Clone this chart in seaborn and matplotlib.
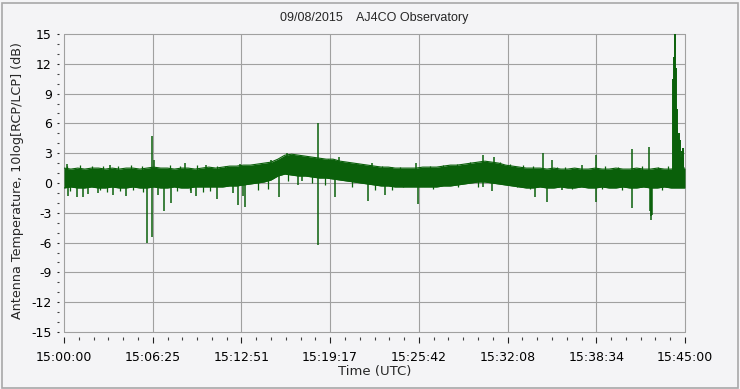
import numpy as np
import pandas as pd
import matplotlib
matplotlib.use("Agg")
import matplotlib.pyplot as plt
from matplotlib.patches import Rectangle
import seaborn as sns

# ---------------- data ----------------
# noise band envelope, every 30 s from 15:00:00 (seconds since 15:00:00)
band_t = list(range(0, 2701, 30))
band_upper = [1.5, 1.4, 1.5, 1.4, 1.5, 1.5, 1.4, 1.5, 1.4, 1.5,
              1.5, 1.4, 1.5, 1.6, 1.5, 1.5, 1.4, 1.5, 1.5, 1.4,
              1.5, 1.6, 1.5, 1.6, 1.7, 1.7, 1.8, 1.8, 1.9, 2.0,
              2.1, 2.4, 2.8, 2.9, 2.8, 2.7, 2.6, 2.5, 2.4, 2.4,
              2.2, 2.1, 2.0, 1.9, 1.8, 1.7, 1.6, 1.6, 1.5, 1.5,
              1.5, 1.5, 1.6, 1.6, 1.6, 1.7, 1.8, 1.8, 1.9, 2.0,
              2.1, 2.2, 2.1, 2.0, 1.8, 1.7, 1.6, 1.5, 1.5, 1.5,
              1.4, 1.5, 1.4, 1.4, 1.5, 1.4, 1.4, 1.5, 1.4, 1.4,
              1.5, 1.4, 1.4, 1.5, 1.4, 1.4, 1.5, 1.4, 1.4, 1.5,
              1.5]
band_lower = [-0.5, -0.4, -0.5, -0.5, -0.4, -0.5, -0.5, -0.4, -0.5, -0.5,
              -0.4, -0.5, -0.5, -0.4, -0.5, -0.5, -0.4, -0.5, -0.5, -0.4,
              -0.4, -0.4, -0.4, -0.4, -0.3, -0.3, -0.2, -0.1, 0.0, 0.1,
              0.3, 0.7, 0.9, 0.8, 0.7, 0.7, 0.6, 0.5, 0.5, 0.4,
              0.3, 0.2, 0.1, 0.0, -0.1, -0.2, -0.3, -0.3, -0.4, -0.4,
              -0.4, -0.4, -0.4, -0.4, -0.4, -0.3, -0.3, -0.2, -0.1, 0.0,
              0.1, 0.1, 0.0, -0.1, -0.2, -0.3, -0.4, -0.5, -0.5, -0.4,
              -0.5, -0.5, -0.4, -0.5, -0.5, -0.4, -0.5, -0.5, -0.4, -0.5,
              -0.5, -0.4, -0.5, -0.5, -0.4, -0.5, -0.5, -0.4, -0.5, -0.5,
              -0.5]

# short hairs on the edges of the noise band
hair_up_t = [12, 70, 120, 170, 235, 293, 338, 461, 504, 577, 664, 700,
             729, 800, 843, 874, 930, 1061, 1148, 1235, 1278, 1383, 1426,
             1461, 1591, 1648, 1709, 1765, 1796, 1896, 1939, 1996, 2039,
             2143, 2178, 2352, 2409, 2512, 2583, 2626]
hair_up_v = [1.7, 1.8, 1.7, 1.75, 1.7, 1.8, 1.7, 1.8, 1.7, 1.8, 1.75, 1.7,
             1.6, 1.7, 1.8, 1.9, 2.1, 2.6, 2.4, 2.1, 1.9, 1.7, 1.6,
             1.65, 1.75, 1.85, 1.9, 2.15, 2.05, 2.15, 1.9, 1.85, 1.75,
             1.65, 1.6, 1.75, 1.6, 1.75, 1.65, 1.75]
hair_dn_t = [26, 157, 186, 243, 301, 345, 490, 548, 606, 635, 843, 887, 974,
             1078, 1135, 1252, 1352, 1426, 1474, 1604, 1715, 1800, 1970, 2026,
             2207, 2338, 2425, 2599]
hair_dn_v = [-0.8, -0.7, -0.9, -0.8, -0.7, -0.9, -0.8, -0.7, -0.9, -0.8,
             -0.75, -0.6, 0.25, -0.05, -0.25, -0.45, -0.75, -0.75, -0.45,
             -0.6, -0.45, -0.45, -0.45, -0.6, -0.6, -0.6, -0.7, -0.7]

# isolated spikes: time (s since 15:00:00) and peak value (dB)
spike_up_t = [14, 200, 383, 393, 526, 617, 765, 900, 970, 1106, 1196, 1339,
              1529, 1822, 1870, 2081, 2120, 2251, 2312, 2468, 2545, 2693]
spike_up_v = [1.9, 1.8, 4.75, 2.3, 2.0, 1.85, 1.9, 2.3, 3.0, 6.0, 2.65, 2.0,
              2.0, 2.8, 2.65, 3.0, 2.3, 1.8, 2.8, 3.4, 3.65, 2.5]

spike_dn_t = [19, 55, 81, 106, 149, 212, 270, 363, 384, 410, 436, 465, 552,
              574, 667, 736, 758, 777, 789, 936, 1016, 1033, 1106, 1180, 1320,
              1396, 1541, 1823, 1860, 2048, 2101, 2164, 2312, 2468, 2546,
              2550, 2553, 2558]
spike_dn_v = [-1.3, -1.4, -1.4, -1.1, -1.0, -1.2, -1.3, -6.0, -5.4, -1.2, -2.8,
              -2.0, -1.0, -1.3, -1.65, -1.0, -2.2, -1.3, -2.4, -1.4, -0.2, 0.2,
              -6.2, -1.45, -1.8, -1.25, -2.1, -0.4, -0.8, -1.45, -1.95, -0.7,
              -1.95, -2.5, -2.8, -3.3, -3.75, -3.2]

# burst at the end of the record
burst_t = [2648, 2650, 2652, 2655, 2657, 2661, 2664, 2666, 2669, 2673, 2676,
           2679, 2683, 2687, 2691]
burst_v = [10.5, 8.5, 12.7, 15.5, 9.0, 11.6, 7.5, 5.5, 4.7, 4.4, 5.0, 4.3,
           2.6, 3.2, 3.5]

x_tick_labels = ["15:00:00", "15:06:25", "15:12:51", "15:19:17",
                 "15:25:42", "15:32:08", "15:38:34", "15:45:00"]
y_ticks = [-15, -12, -9, -6, -3, 0, 3, 6, 9, 12, 15]

title = "09/08/2015    AJ4CO Observatory"
xlabel = "Time (UTC)"
ylabel = "Antenna Temperature, 10log[RCP/LCP] (dB)"

# ---------------- style ----------------
sns.set_style("white")
plt.rcParams["font.family"] = ["DejaVu Sans"]
plt.rcParams["axes.unicode_minus"] = False

BG = "#f4f4f6"
GREEN = "#0a600a"
GRID = "#a0a0a0"

fig = plt.figure(figsize=(7.4, 3.89), dpi=100)
fig.patch.set_facecolor(BG)
ax = fig.add_axes([64 / 740, 57 / 389, 621 / 740, 298 / 389])
ax.set_facecolor(BG)

band = pd.DataFrame({"t": band_t, "upper": band_upper, "lower": band_lower})
mid = (band["upper"] + band["lower"]) / 2

ax.fill_between(band["t"], band["lower"], band["upper"], color=GREEN, lw=0,
                zorder=3)
sns.lineplot(data=band, x="t", y="upper", ax=ax, color=GREEN, lw=0.8,
             zorder=3)
sns.lineplot(data=band, x="t", y="lower", ax=ax, color=GREEN, lw=0.8,
             zorder=3)


def spikes(ts, vs, lw):
    base = np.interp(ts, band_t, mid)
    ax.vlines(ts, base, vs, color=GREEN, lw=lw, zorder=3)


spikes(hair_up_t, hair_up_v, 0.9)
spikes(hair_dn_t, hair_dn_v, 0.9)
spikes(spike_up_t, spike_up_v, 1.1)
spikes(spike_dn_t, spike_dn_v, 1.1)
spikes(burst_t, burst_v, 1.4)

# ---------------- axes ----------------
ax.set_xlim(0, 2700)
ax.set_ylim(-15, 15)
x_major = np.linspace(0, 2700, len(x_tick_labels))
ax.set_xticks(x_major)
ax.set_xticklabels(x_tick_labels)
ax.set_xticks(np.linspace(0, 2700, 6 * (len(x_tick_labels) - 1) + 1),
              minor=True)
ax.set_yticks(y_ticks)
ax.set_yticklabels([str(v) for v in y_ticks])
ax.set_yticks(np.arange(-15, 16, 1), minor=True)

for s in ax.spines.values():
    s.set_color("none")
ax.spines["bottom"].set_position(("outward", 3.6))
ax.spines["left"].set_position(("outward", 3.6))

ax.tick_params(axis="x", which="major", direction="out", length=4.3,
               width=0.8, color="#202020", pad=5.5, labelsize=9,
               labelcolor="black", bottom=True)
ax.tick_params(axis="x", which="minor", direction="out", length=2.2,
               width=0.8, color="#404040", bottom=True)
ax.tick_params(axis="y", which="major", direction="out", length=1.5,
               width=0.8, color="#202020", pad=3.6, labelsize=9,
               labelcolor="black", left=True)
ax.tick_params(axis="y", which="minor", direction="out", length=1.5,
               width=0.8, color="#404040", left=True)

ax.grid(True, which="major", color=GRID, lw=0.8, zorder=1)
for gl in ax.get_xgridlines() + ax.get_ygridlines():
    gl.set_clip_on(False)
ax.set_axisbelow(True)

ax.set_xlabel("")
ax.set_ylabel("")
fig.text(375 / 740, 1 - 371 / 389, xlabel, ha="center", va="center",
         fontsize=9.5)
fig.text(18 / 740, 1 - 181 / 389, ylabel, ha="center", va="center",
         rotation=90, fontsize=9.2)
fig.text(374 / 740, 1 - 18 / 389, title, ha="center", va="center",
         fontsize=9, family=["Liberation Sans", "DejaVu Sans"])

fig.add_artist(Rectangle((1.5 / 740, 1.5 / 389), 736 / 740, 385 / 389,
                         transform=fig.transFigure, fill=False,
                         edgecolor="#a8a8a8", lw=1.2))

fig.savefig("out.png", dpi=100, facecolor=BG)
